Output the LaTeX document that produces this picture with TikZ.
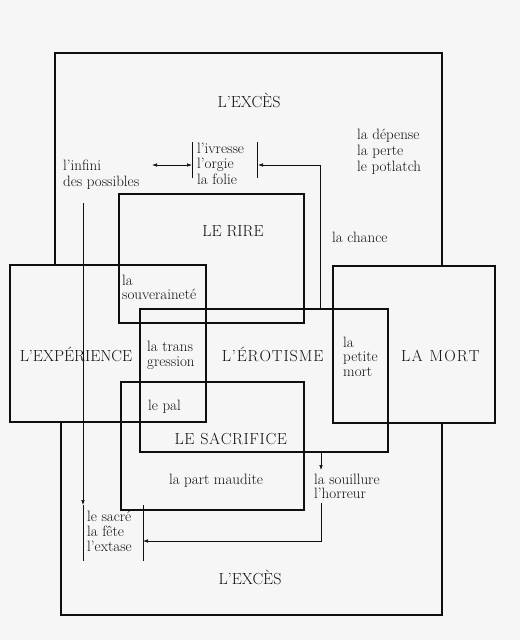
\documentclass[tikz,border=0pt]{standalone}
\usetikzlibrary{arrows.meta}
\definecolor{paper}{gray}{0.965}
\definecolor{ink}{gray}{0.06}
\makeatletter
\newcommand\lsp[2]{\def\lsp@k{#1}\lsp@go#2\relax}
\def\lsp@go#1{\ifx\relax#1\else#1\kern\lsp@k\expandafter\lsp@go\fi}
\makeatother
\begin{document}
\begin{tikzpicture}[x=1pt,y=-1pt,
  frame/.style={draw=ink, line width=1.6pt},
  box/.style={draw=ink, line width=1.6pt, inner sep=0pt, outer sep=0pt, rectangle},
  conn/.style={draw=ink, line width=0.7pt},
  tip/.tip={Latex[length=5pt,width=3.6pt]},
  arr/.style={conn, -tip},
  lbl/.style={inner sep=0pt, text=ink, font=\fontsize{15}{16}\selectfont},
  big/.style={inner sep=0pt, text=ink, font=\fontsize{16}{17}\selectfont},
]
\useasboundingbox[fill=paper] (0,0) rectangle (520,640);

% outer frames of L'EXCES
\draw[frame] (55,265) -- (55,53) -- (442,53) -- (442,266);
\draw[frame] (61,422) -- (61,615) -- (442,615) -- (442,423);

% boxes
\node[box, minimum width=185pt, minimum height=129pt] (rire) at (211.5,258.5) {};
\node[box, minimum width=196pt, minimum height=157pt] (exp) at (108,343.5) {};
\node[box, minimum width=248pt, minimum height=143pt] (ero) at (264,380.5) {};
\node[box, minimum width=183pt, minimum height=128pt] (sac) at (212.5,446) {};
\node[box, minimum width=162pt, minimum height=157pt] (mort) at (414,344.5) {};

% main titles
\node[big, anchor=base] (excTop) at (249,107) {L’EXCÈS};
\node[big, anchor=base] (excBot) at (250,584) {L’EXCÈS};
\node[big, anchor=base] (rireT) at (233,236) {LE RIRE};
\node[big, anchor=base] (expT) at (76,361) {L’EXPÉRIENCE};
\node[big, anchor=base] (eroT) at (273,361) {\lsp{0.9pt}{L’ÉROTISME}};
\node[big, anchor=base] (mortT) at (441,361) {\lsp{1.1pt}{LA~MORT}};
\node[big, anchor=base] (sacT) at (231,444) {\lsp{0.6pt}{LE~SACRIFICE}};

% small labels
\node[lbl, anchor=base west] (infini) at (63,170.7)
  {\vtop{\baselineskip=16pt\hbox{l’infini}\hbox{des possibles}}};
\node[lbl, anchor=base west] (ivresse) at (197,153)
  {\vtop{\baselineskip=15.5pt\hbox{l’ivresse}\hbox{l’orgie}\hbox{la folie}}};
\node[lbl, anchor=base west] (depense) at (357,139)
  {\vtop{\baselineskip=16pt\hbox{la dépense}\hbox{la perte}\hbox{le potlatch}}};
\node[lbl, anchor=base west] (chance) at (332,242) {la chance};
\node[lbl, anchor=base west] (souv) at (122,285.5)
  {\vtop{\baselineskip=14pt\hbox{la}\hbox{souveraineté}}};
\node[lbl, anchor=base west] (trans) at (147,351.7)
  {\vtop{\baselineskip=14.5pt\hbox{la trans}\hbox{gression}}};
\node[lbl, anchor=base west] (pal) at (148,410) {le pal};
\node[lbl, anchor=base west] (petite) at (343,347)
  {\vtop{\baselineskip=14.5pt\hbox{la}\hbox{petite}\hbox{mort}}};
\node[lbl, anchor=base] (maudite) at (216,484) {la part maudite};
\node[lbl, anchor=base west] (souill) at (314,484.5)
  {\vtop{\baselineskip=14pt\hbox{la souillure}\hbox{l’horreur}}};
\node[lbl, anchor=base west] (sacre) at (87,521.7)
  {\vtop{\baselineskip=15pt\hbox{le sacré}\hbox{la fête}\hbox{l’extase}}};

% bars
\coordinate (b1t) at (192,142); \coordinate (b1b) at (192,178);
\coordinate (b2t) at (257,142); \coordinate (b2b) at (257,178);
\coordinate (b3t) at (83,505);  \coordinate (b3b) at (83,561);
\coordinate (b4t) at (143,505); \coordinate (b4b) at (143,561);
\draw[conn] (b1t) -- (b1b);
\draw[conn] (b2t) -- (b2b);
\draw[conn] (b3t) -- (b3b);
\draw[conn] (b4t) -- (b4b);

% connectors
\coordinate (infA) at (152,165);
\draw[conn, tip-tip] (infA) -- (infA -| b1t);
\coordinate (c1) at (320,165);
\draw[arr, shorten >=1pt] (ero.north -| c1) -- (c1) -- (c1 -| b2t);
\coordinate (c2) at (83,203);
\draw[arr] (c2) -- (b3t);
\coordinate (c5) at (321,470);
\draw[arr] (ero.south -| c5) -- (c5);
\coordinate (c3) at (321,503);
\coordinate (c4) at (321,541);
\draw[arr] (c3) -- (c4) -- (c4 -| b4t);
\end{tikzpicture}
\end{document}
